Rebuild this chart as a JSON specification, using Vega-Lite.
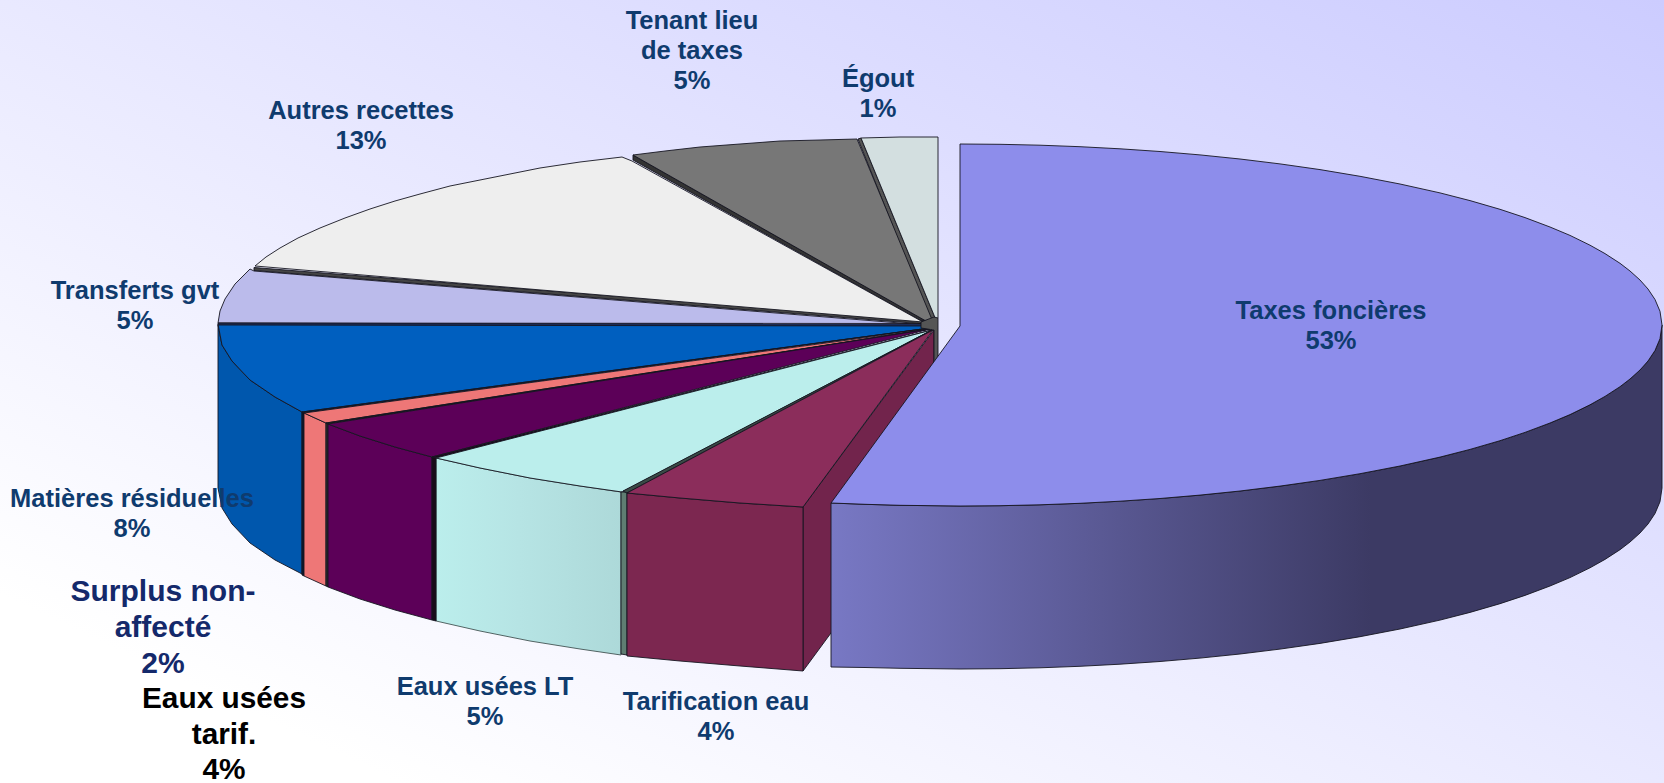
{"$schema":"https://vega.github.io/schema/vega-lite/v6.json","width":1664,"height":783,"padding":0,"autosize":{"type":"none"},"background":"#ffffff","config":{"view":{"stroke":null}},
"datasets":{"shapes":[
{"p":"a01 Égout paroi","i":0,"x":858,"y":139},{"p":"a01 Égout paroi","i":1,"x":861,"y":138},{"p":"a01 Égout paroi","i":2,"x":936,"y":320},{"p":"a01 Égout paroi","i":3,"x":931,"y":322},{"p":"a01 Égout paroi","i":4,"x":858,"y":139},
{"p":"a02 Égout","i":0,"x":861,"y":138},{"p":"a02 Égout","i":1,"x":900,"y":137},{"p":"a02 Égout","i":2,"x":938,"y":137},{"p":"a02 Égout","i":3,"x":938,"y":318},{"p":"a02 Égout","i":4,"x":936,"y":320},{"p":"a02 Égout","i":5,"x":861,"y":138},
{"p":"a03 Tenant paroi","i":0,"x":633,"y":155},{"p":"a03 Tenant paroi","i":1,"x":633,"y":160},{"p":"a03 Tenant paroi","i":2,"x":925,"y":323},{"p":"a03 Tenant paroi","i":3,"x":933,"y":325},{"p":"a03 Tenant paroi","i":4,"x":633,"y":155},
{"p":"a04 Tenant","i":0,"x":633,"y":155},{"p":"a04 Tenant","i":1,"x":665,"y":151},{"p":"a04 Tenant","i":2,"x":700,"y":147},{"p":"a04 Tenant","i":3,"x":740,"y":144},{"p":"a04 Tenant","i":4,"x":780,"y":141},{"p":"a04 Tenant","i":5,"x":820,"y":140},{"p":"a04 Tenant","i":6,"x":857,"y":139},{"p":"a04 Tenant","i":7,"x":933,"y":322},{"p":"a04 Tenant","i":8,"x":933,"y":325},{"p":"a04 Tenant","i":9,"x":633,"y":155},
{"p":"a05 Autres paroi","i":0,"x":254,"y":267.5},{"p":"a05 Autres paroi","i":1,"x":254,"y":270.5},{"p":"a05 Autres paroi","i":2,"x":925,"y":324},{"p":"a05 Autres paroi","i":3,"x":925,"y":320.5},{"p":"a05 Autres paroi","i":4,"x":254,"y":267.5},
{"p":"a06 Autres","i":0,"x":255,"y":266},{"p":"a06 Autres","i":1,"x":266,"y":257},{"p":"a06 Autres","i":2,"x":280,"y":248},{"p":"a06 Autres","i":3,"x":298,"y":238},{"p":"a06 Autres","i":4,"x":320,"y":228},{"p":"a06 Autres","i":5,"x":345,"y":218},{"p":"a06 Autres","i":6,"x":370,"y":209},{"p":"a06 Autres","i":7,"x":395,"y":201},{"p":"a06 Autres","i":8,"x":420,"y":194},{"p":"a06 Autres","i":9,"x":450,"y":186},{"p":"a06 Autres","i":10,"x":480,"y":180},{"p":"a06 Autres","i":11,"x":510,"y":174},{"p":"a06 Autres","i":12,"x":540,"y":168},{"p":"a06 Autres","i":13,"x":580,"y":162},{"p":"a06 Autres","i":14,"x":622,"y":157},{"p":"a06 Autres","i":15,"x":632,"y":161},{"p":"a06 Autres","i":16,"x":923,"y":322},{"p":"a06 Autres","i":17,"x":255,"y":266},
{"p":"a07 Transferts","i":0,"x":250,"y":269},{"p":"a07 Transferts","i":1,"x":235,"y":284},{"p":"a07 Transferts","i":2,"x":225,"y":299},{"p":"a07 Transferts","i":3,"x":220,"y":311},{"p":"a07 Transferts","i":4,"x":218,"y":323},{"p":"a07 Transferts","i":5,"x":925,"y":325},{"p":"a07 Transferts","i":6,"x":254,"y":271},{"p":"a07 Transferts","i":7,"x":250,"y":269},
{"p":"a08 Matières paroi","i":0,"x":218,"y":325},{"p":"a08 Matières paroi","i":1,"x":222,"y":345},{"p":"a08 Matières paroi","i":2,"x":232,"y":361},{"p":"a08 Matières paroi","i":3,"x":250,"y":380},{"p":"a08 Matières paroi","i":4,"x":275,"y":397},{"p":"a08 Matières paroi","i":5,"x":302,"y":412},{"p":"a08 Matières paroi","i":6,"x":302,"y":574},{"p":"a08 Matières paroi","i":7,"x":275,"y":560},{"p":"a08 Matières paroi","i":8,"x":250,"y":543},{"p":"a08 Matières paroi","i":9,"x":232,"y":524},{"p":"a08 Matières paroi","i":10,"x":222,"y":508},{"p":"a08 Matières paroi","i":11,"x":218,"y":488},{"p":"a08 Matières paroi","i":12,"x":218,"y":325},
{"p":"a09 Matières","i":0,"x":218,"y":324},{"p":"a09 Matières","i":1,"x":222,"y":345},{"p":"a09 Matières","i":2,"x":232,"y":361},{"p":"a09 Matières","i":3,"x":250,"y":380},{"p":"a09 Matières","i":4,"x":275,"y":397},{"p":"a09 Matières","i":5,"x":302,"y":412},{"p":"a09 Matières","i":6,"x":930,"y":328},{"p":"a09 Matières","i":7,"x":930,"y":325},{"p":"a09 Matières","i":8,"x":218,"y":324},
{"p":"a09b Matières arête","i":0,"x":218,"y":323},{"p":"a09b Matières arête","i":1,"x":925,"y":323.5},{"p":"a09b Matières arête","i":2,"x":925,"y":326},{"p":"a09b Matières arête","i":3,"x":218,"y":325},{"p":"a09b Matières arête","i":4,"x":218,"y":323},
{"p":"a09c Joint 1","i":0,"x":302,"y":412},{"p":"a09c Joint 1","i":1,"x":304,"y":413},{"p":"a09c Joint 1","i":2,"x":304,"y":576},{"p":"a09c Joint 1","i":3,"x":302,"y":575},{"p":"a09c Joint 1","i":4,"x":302,"y":412},
{"p":"a09d Joint 1 haut","i":0,"x":302,"y":412},{"p":"a09d Joint 1 haut","i":1,"x":304,"y":413},{"p":"a09d Joint 1 haut","i":2,"x":930,"y":328},{"p":"a09d Joint 1 haut","i":3,"x":302,"y":412},
{"p":"a10 Surplus paroi","i":0,"x":304,"y":413},{"p":"a10 Surplus paroi","i":1,"x":326,"y":423},{"p":"a10 Surplus paroi","i":2,"x":326,"y":586},{"p":"a10 Surplus paroi","i":3,"x":304,"y":576},{"p":"a10 Surplus paroi","i":4,"x":304,"y":413},
{"p":"a11 Surplus","i":0,"x":304,"y":413},{"p":"a11 Surplus","i":1,"x":326,"y":423},{"p":"a11 Surplus","i":2,"x":930,"y":329},{"p":"a11 Surplus","i":3,"x":304,"y":413},
{"p":"a11b Joint 2","i":0,"x":326,"y":423},{"p":"a11b Joint 2","i":1,"x":328,"y":424},{"p":"a11b Joint 2","i":2,"x":328,"y":587},{"p":"a11b Joint 2","i":3,"x":326,"y":586},{"p":"a11b Joint 2","i":4,"x":326,"y":423},
{"p":"a11c Joint 2 haut","i":0,"x":326,"y":423},{"p":"a11c Joint 2 haut","i":1,"x":328,"y":424},{"p":"a11c Joint 2 haut","i":2,"x":930,"y":329},{"p":"a11c Joint 2 haut","i":3,"x":326,"y":423},
{"p":"a12 Eaux tarif paroi","i":0,"x":328,"y":424},{"p":"a12 Eaux tarif paroi","i":1,"x":360,"y":436},{"p":"a12 Eaux tarif paroi","i":2,"x":395,"y":447},{"p":"a12 Eaux tarif paroi","i":3,"x":432,"y":457},{"p":"a12 Eaux tarif paroi","i":4,"x":432,"y":620},{"p":"a12 Eaux tarif paroi","i":5,"x":395,"y":610},{"p":"a12 Eaux tarif paroi","i":6,"x":360,"y":599},{"p":"a12 Eaux tarif paroi","i":7,"x":328,"y":587},{"p":"a12 Eaux tarif paroi","i":8,"x":328,"y":424},
{"p":"a13 Eaux tarif","i":0,"x":328,"y":424},{"p":"a13 Eaux tarif","i":1,"x":360,"y":436},{"p":"a13 Eaux tarif","i":2,"x":395,"y":447},{"p":"a13 Eaux tarif","i":3,"x":432,"y":457},{"p":"a13 Eaux tarif","i":4,"x":930,"y":329},{"p":"a13 Eaux tarif","i":5,"x":328,"y":424},
{"p":"a13b Joint 3","i":0,"x":432,"y":457},{"p":"a13b Joint 3","i":1,"x":436,"y":458},{"p":"a13b Joint 3","i":2,"x":436,"y":621},{"p":"a13b Joint 3","i":3,"x":432,"y":620},{"p":"a13b Joint 3","i":4,"x":432,"y":457},
{"p":"a13c Joint 3 haut","i":0,"x":432,"y":457},{"p":"a13c Joint 3 haut","i":1,"x":436,"y":458},{"p":"a13c Joint 3 haut","i":2,"x":932,"y":330},{"p":"a13c Joint 3 haut","i":3,"x":432,"y":457},
{"p":"a14 Eaux LT","i":0,"x":436,"y":458},{"p":"a14 Eaux LT","i":1,"x":480,"y":468},{"p":"a14 Eaux LT","i":2,"x":530,"y":478},{"p":"a14 Eaux LT","i":3,"x":580,"y":486},{"p":"a14 Eaux LT","i":4,"x":622,"y":492},{"p":"a14 Eaux LT","i":5,"x":932,"y":330},{"p":"a14 Eaux LT","i":6,"x":436,"y":458},
{"p":"a15 Eaux LT joint","i":0,"x":621,"y":492},{"p":"a15 Eaux LT joint","i":1,"x":627,"y":492},{"p":"a15 Eaux LT joint","i":2,"x":627,"y":655},{"p":"a15 Eaux LT joint","i":3,"x":621,"y":654},{"p":"a15 Eaux LT joint","i":4,"x":621,"y":492},
{"p":"a16 Eaux LT arête","i":0,"x":623,"y":491},{"p":"a16 Eaux LT arête","i":1,"x":932,"y":330},{"p":"a16 Eaux LT arête","i":2,"x":627,"y":493},{"p":"a16 Eaux LT arête","i":3,"x":623,"y":491},
{"p":"a17 Tarification coupe","i":0,"x":803,"y":507},{"p":"a17 Tarification coupe","i":1,"x":934,"y":330},{"p":"a17 Tarification coupe","i":2,"x":934,"y":493},{"p":"a17 Tarification coupe","i":3,"x":803,"y":671},{"p":"a17 Tarification coupe","i":4,"x":803,"y":507},
{"p":"a18 Tarification paroi","i":0,"x":627,"y":493},{"p":"a18 Tarification paroi","i":1,"x":680,"y":498},{"p":"a18 Tarification paroi","i":2,"x":740,"y":503},{"p":"a18 Tarification paroi","i":3,"x":803,"y":507},{"p":"a18 Tarification paroi","i":4,"x":803,"y":671},{"p":"a18 Tarification paroi","i":5,"x":740,"y":666},{"p":"a18 Tarification paroi","i":6,"x":680,"y":661},{"p":"a18 Tarification paroi","i":7,"x":627,"y":656},{"p":"a18 Tarification paroi","i":8,"x":627,"y":493},
{"p":"a19 Tarification","i":0,"x":627,"y":493},{"p":"a19 Tarification","i":1,"x":680,"y":498},{"p":"a19 Tarification","i":2,"x":740,"y":503},{"p":"a19 Tarification","i":3,"x":803,"y":507},{"p":"a19 Tarification","i":4,"x":933,"y":330},{"p":"a19 Tarification","i":5,"x":627,"y":493},
{"p":"a20 Moyeu","i":0,"x":921,"y":322},{"p":"a20 Moyeu","i":1,"x":934,"y":317},{"p":"a20 Moyeu","i":2,"x":938,"y":318},{"p":"a20 Moyeu","i":3,"x":938,"y":400},{"p":"a20 Moyeu","i":4,"x":934,"y":400},{"p":"a20 Moyeu","i":5,"x":934,"y":330},{"p":"a20 Moyeu","i":6,"x":921,"y":328},{"p":"a20 Moyeu","i":7,"x":921,"y":322}
],
"taxesTop":[{"i":0,"x":960,"y":144},{"i":1,"x":1000,"y":144.3},{"i":2,"x":1040,"y":145.2},{"i":3,"x":1080,"y":146.7},{"i":4,"x":1120,"y":148.8},{"i":5,"x":1160,"y":151.5},{"i":6,"x":1200,"y":154.9},{"i":7,"x":1240,"y":159},{"i":8,"x":1280,"y":163.9},{"i":9,"x":1320,"y":169.6},{"i":10,"x":1360,"y":176.3},{"i":11,"x":1400,"y":184},{"i":12,"x":1440,"y":192.9},{"i":13,"x":1470,"y":200.6},{"i":14,"x":1500,"y":209.3},{"i":15,"x":1525,"y":217.6},{"i":16,"x":1550,"y":227},{"i":17,"x":1570,"y":235.4},{"i":18,"x":1590,"y":245.2},{"i":19,"x":1605,"y":253.6},{"i":20,"x":1620,"y":263.3},{"i":21,"x":1630,"y":271},{"i":22,"x":1640,"y":280},{"i":23,"x":1648,"y":289},{"i":24,"x":1655,"y":299.5},{"i":25,"x":1660,"y":311.3},{"i":26,"x":1662,"y":325},{"i":27,"x":1660,"y":338.7},{"i":28,"x":1655,"y":350.5},{"i":29,"x":1648,"y":361},{"i":30,"x":1640,"y":370},{"i":31,"x":1630,"y":379},{"i":32,"x":1620,"y":386.7},{"i":33,"x":1605,"y":396.4},{"i":34,"x":1590,"y":404.8},{"i":35,"x":1570,"y":414.6},{"i":36,"x":1550,"y":423},{"i":37,"x":1525,"y":432.4},{"i":38,"x":1500,"y":440.7},{"i":39,"x":1470,"y":449.4},{"i":40,"x":1440,"y":457.1},{"i":41,"x":1400,"y":466},{"i":42,"x":1360,"y":473.7},{"i":43,"x":1320,"y":480.4},{"i":44,"x":1280,"y":486.1},{"i":45,"x":1240,"y":491},{"i":46,"x":1200,"y":495.1},{"i":47,"x":1160,"y":498.5},{"i":48,"x":1120,"y":501.2},{"i":49,"x":1080,"y":503.3},{"i":50,"x":1040,"y":504.8},{"i":51,"x":1000,"y":505.7},{"i":52,"x":960,"y":506},{"i":53,"x":900,"y":505.3},{"i":54,"x":865,"y":504.3},{"i":55,"x":831,"y":503},{"i":56,"x":960,"y":326},{"i":57,"x":960,"y":144}],
"cyanWall":[{"i":0,"x":436,"y":458},{"i":1,"x":480,"y":468},{"i":2,"x":530,"y":478},{"i":3,"x":580,"y":486},{"i":4,"x":621,"y":492},{"i":5,"x":621,"y":655},{"i":6,"x":580,"y":649},{"i":7,"x":530,"y":641},{"i":8,"x":480,"y":631},{"i":9,"x":436,"y":621},{"i":10,"x":436,"y":458}],
"taxesWall":[{"i":0,"x":831,"y":503},{"i":1,"x":865,"y":504.3},{"i":2,"x":900,"y":505.3},{"i":3,"x":960,"y":506},{"i":4,"x":1000,"y":505.7},{"i":5,"x":1040,"y":504.8},{"i":6,"x":1080,"y":503.3},{"i":7,"x":1120,"y":501.2},{"i":8,"x":1160,"y":498.5},{"i":9,"x":1200,"y":495.1},{"i":10,"x":1240,"y":491},{"i":11,"x":1280,"y":486.1},{"i":12,"x":1320,"y":480.4},{"i":13,"x":1360,"y":473.7},{"i":14,"x":1400,"y":466},{"i":15,"x":1440,"y":457.1},{"i":16,"x":1470,"y":449.4},{"i":17,"x":1500,"y":440.7},{"i":18,"x":1525,"y":432.4},{"i":19,"x":1550,"y":423},{"i":20,"x":1570,"y":414.6},{"i":21,"x":1590,"y":404.8},{"i":22,"x":1605,"y":396.4},{"i":23,"x":1620,"y":386.7},{"i":24,"x":1630,"y":379},{"i":25,"x":1640,"y":370},{"i":26,"x":1648,"y":361},{"i":27,"x":1655,"y":350.5},{"i":28,"x":1660,"y":338.7},{"i":29,"x":1662,"y":325},{"i":30,"x":1662,"y":488},{"i":31,"x":1660,"y":501.7},{"i":32,"x":1655,"y":513.5},{"i":33,"x":1648,"y":524},{"i":34,"x":1640,"y":533},{"i":35,"x":1630,"y":542},{"i":36,"x":1620,"y":549.7},{"i":37,"x":1605,"y":559.4},{"i":38,"x":1590,"y":567.8},{"i":39,"x":1570,"y":577.6},{"i":40,"x":1550,"y":586},{"i":41,"x":1525,"y":595.4},{"i":42,"x":1500,"y":603.7},{"i":43,"x":1470,"y":612.4},{"i":44,"x":1440,"y":620.1},{"i":45,"x":1400,"y":629},{"i":46,"x":1360,"y":636.7},{"i":47,"x":1320,"y":643.4},{"i":48,"x":1280,"y":649.1},{"i":49,"x":1240,"y":654},{"i":50,"x":1200,"y":658.1},{"i":51,"x":1160,"y":661.5},{"i":52,"x":1120,"y":664.2},{"i":53,"x":1080,"y":666.3},{"i":54,"x":1040,"y":667.8},{"i":55,"x":1000,"y":668.7},{"i":56,"x":960,"y":669},{"i":57,"x":900,"y":668.3},{"i":58,"x":865,"y":667.5},{"i":59,"x":831,"y":667},{"i":60,"x":831,"y":503}],
"labels":[
{"label":"Tenant lieu\nde taxes\n5%","x":692,"y":29},
{"label":"Égout\n1%","x":878,"y":87},
{"label":"Autres recettes\n13%","x":361,"y":119},
{"label":"Transferts gvt\n5%","x":135,"y":299},
{"label":"Taxes foncières\n53%","x":1331,"y":319},
{"label":"Matières résiduelles\n8%","x":132,"y":507},
{"label":"Eaux usées LT\n5%","x":485,"y":695},
{"label":"Tarification eau\n4%","x":716,"y":710}
]},
"layer":[
{"data":{"values":[{"a":0,"b":1664,"c":0,"d":783}]},"mark":{"type":"rect","stroke":null,"fill":{"gradient":"linear","x1":0,"y1":1,"x2":1,"y2":0,"stops":[{"offset":0,"color":"#ffffff"},{"offset":0.12,"color":"#ffffff"},{"offset":1,"color":"#ccccff"}]}},"encoding":{"x":{"field":"a","type":"quantitative","scale":{"domain":[0,1664],"nice":false,"zero":false},"axis":null},"x2":{"field":"b"},"y":{"field":"c","type":"quantitative","scale":{"domain":[783,0],"nice":false,"zero":false},"axis":null},"y2":{"field":"d"}}},
{"data":{"name":"cyanWall"},"mark":{"type":"line","stroke":"#30403f","strokeWidth":0.8,"fill":{"gradient":"linear","x1":0,"y1":0,"x2":1,"y2":0,"stops":[{"offset":0,"color":"#bbeeec"},{"offset":0.45,"color":"#b6e4e4"},{"offset":1,"color":"#add9d9"}]}},"encoding":{"x":{"field":"x","type":"quantitative","scale":{"domain":[0,1664],"nice":false,"zero":false},"axis":null},"y":{"field":"y","type":"quantitative","scale":{"domain":[783,0],"nice":false,"zero":false},"axis":null},"order":{"field":"i"}}},
{"data":{"name":"shapes"},"mark":{"type":"line","stroke":"#151520","strokeWidth":0.9},"encoding":{"x":{"field":"x","type":"quantitative","scale":{"domain":[0,1664],"nice":false,"zero":false},"axis":null},"y":{"field":"y","type":"quantitative","scale":{"domain":[783,0],"nice":false,"zero":false},"axis":null},"detail":{"field":"p"},"order":{"field":"i"},"fill":{"field":"p","type":"nominal","legend":null,"scale":{"domain":["a01 Égout paroi","a02 Égout","a03 Tenant paroi","a04 Tenant","a05 Autres paroi","a06 Autres","a07 Transferts","a08 Matières paroi","a09 Matières","a09b Matières arête","a09c Joint 1","a09d Joint 1 haut","a10 Surplus paroi","a11 Surplus","a11b Joint 2","a11c Joint 2 haut","a12 Eaux tarif paroi","a13 Eaux tarif","a13b Joint 3","a13c Joint 3 haut","a14 Eaux LT","a15 Eaux LT joint","a16 Eaux LT arête","a17 Tarification coupe","a18 Tarification paroi","a19 Tarification","a20 Moyeu"],"range":["#555555","#d3dfe0","#333333","#777777","#444444","#eeeeee","#bbbbeb","#0057ad","#005fbf","#1c2b55","#0a1a30","#0a1a30","#ee7777","#ee7777","#33302e","#1a1a1a","#5c0058","#5c0058","#1a0a1a","#1a0a1a","#bbeeec","#5f7d72","#3a4a46","#72244c","#7c2750","#8b2d5b","#555555"]}}}},
{"data":{"name":"taxesWall"},"mark":{"type":"line","stroke":"#151520","strokeWidth":0.9,"fill":{"gradient":"linear","x1":0,"y1":0,"x2":1,"y2":0,"stops":[{"offset":0,"color":"#7878c4"},{"offset":0.65,"color":"#3c3a64"},{"offset":1,"color":"#3c3a64"}]}},"encoding":{"x":{"field":"x","type":"quantitative","scale":{"domain":[0,1664],"nice":false,"zero":false},"axis":null},"y":{"field":"y","type":"quantitative","scale":{"domain":[783,0],"nice":false,"zero":false},"axis":null},"order":{"field":"i"}}},
{"data":{"name":"taxesTop"},"mark":{"type":"line","stroke":"#151520","strokeWidth":0.9,"fill":"#8d8deb"},"encoding":{"x":{"field":"x","type":"quantitative","scale":{"domain":[0,1664],"nice":false,"zero":false},"axis":null},"y":{"field":"y","type":"quantitative","scale":{"domain":[783,0],"nice":false,"zero":false},"axis":null},"order":{"field":"i"}}},
{"data":{"name":"labels"},"mark":{"type":"text","font":"Liberation Sans","fontWeight":"bold","fontSize":25.5,"lineHeight":30,"lineBreak":"\n","align":"center","baseline":"alphabetic","fill":"#0f3b6e"},"encoding":{"x":{"field":"x","type":"quantitative","scale":{"domain":[0,1664],"nice":false,"zero":false},"axis":null},"y":{"field":"y","type":"quantitative","scale":{"domain":[783,0],"nice":false,"zero":false},"axis":null},"text":{"field":"label"}}},
{"data":{"values":[{"label":"Surplus non-\naffecté\n2%","x":163,"y":601}]},"mark":{"type":"text","font":"Liberation Sans","fontWeight":"bold","fontSize":30,"lineHeight":36,"lineBreak":"\n","align":"center","baseline":"alphabetic","fill":"#14296b"},"encoding":{"x":{"field":"x","type":"quantitative","scale":{"domain":[0,1664],"nice":false,"zero":false},"axis":null},"y":{"field":"y","type":"quantitative","scale":{"domain":[783,0],"nice":false,"zero":false},"axis":null},"text":{"field":"label"}}},
{"data":{"values":[{"label":"Eaux usées\ntarif.\n4%","x":224,"y":708}]},"mark":{"type":"text","font":"Liberation Sans","fontWeight":"bold","fontSize":29.8,"lineHeight":35.5,"lineBreak":"\n","align":"center","baseline":"alphabetic","fill":"#000000"},"encoding":{"x":{"field":"x","type":"quantitative","scale":{"domain":[0,1664],"nice":false,"zero":false},"axis":null},"y":{"field":"y","type":"quantitative","scale":{"domain":[783,0],"nice":false,"zero":false},"axis":null},"text":{"field":"label"}}}
]}
